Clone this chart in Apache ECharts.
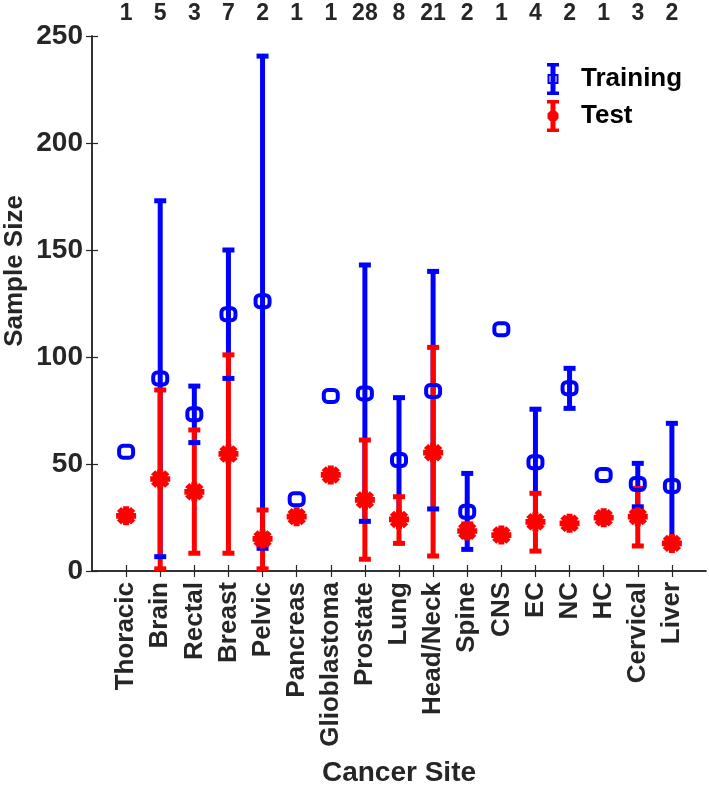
<!DOCTYPE html>
<html>
<head>
<meta charset="utf-8">
<script src="https://cdn.jsdelivr.net/npm/echarts@6/dist/echarts.min.js"></script>
<style>html,body{margin:0;padding:0;background:#fff;}#c{width:709px;height:786px;}</style>
</head>
<body>
<div id="c"></div>
<script>
var categories = ['Thoracic','Brain','Rectal','Breast','Pelvic','Pancreas','Glioblastoma','Prostate','Lung','Head/Neck','Spine','CNS','EC','NC','HC','Cervical','Liver'];
var counts = [1,5,3,7,2,1,1,28,8,21,2,1,4,2,1,3,2];
var trainMean = [55.7, 90, 73.2, 120, 126, 33.5, 81.8, 83, 51.9, 84.1, 27.7, 113, 50.8, 85.4, 44.9, 40.7, 39.7];
var trainLow  = [null, 6.7, 60, 90, 10.6, null, null, 23.2, 24, 29, 10.1, null, 23, 76, null, 30, 13];
var trainHigh = [null, 173, 86.4, 150, 240.6, null, null, 143, 81, 140, 45.6, null, 75.6, 94.7, null, 50.3, 69];
var testMean = [25.8, 43, 37, 54.7, 15, 25.4, 44.9, 33.2, 24.1, 55.3, 18.7, 16.8, 23, 22.3, 24.9, 25.4, 12.9];
var testLow  = [null, 1, 8.3, 8.3, 1, null, null, 5.5, 12.9, 7, 16, null, 9.3, 20.5, null, 11.7, null];
var testHigh = [null, 84.6, 65.9, 101, 28.5, null, null, 61.2, 34.7, 104.5, 22, null, 36.3, 24.5, null, 38.6, null];
var yTicks = [0, 50, 100, 150, 200, 250];

var BLUE = '#0000ff', RED = '#ff0000', AX = '#262626';
var FONT = '"Liberation Sans", Arial, sans-serif';

function rangeData(low, high) {
  var out = [];
  for (var i = 0; i < categories.length; i++) {
    if (low[i] != null && high[i] != null) out.push([i + 1, low[i], high[i]]);
  }
  return out;
}
function meanData(m) { return m.map(function (v, i) { return [i + 1, v]; }); }

function barSeries(name, low, high, color) {
  return {
    type: 'custom', name: name + 'Bar', silent: true, clip: false,
    data: rangeData(low, high),
    encode: { x: 0, y: [1, 2] },
    renderItem: function (params, api) {
      var p1 = api.coord([api.value(0), api.value(1)]);
      var p2 = api.coord([api.value(0), api.value(2)]);
      return { type: 'line', shape: { x1: p1[0], y1: p1[1], x2: p2[0], y2: p2[1] },
               style: { stroke: color, lineWidth: 5 } };
    }
  };
}
function capSeries(name, low, high, color) {
  return {
    type: 'custom', name: name + 'Cap', silent: true, clip: false,
    data: rangeData(low, high),
    encode: { x: 0, y: [1, 2] },
    renderItem: function (params, api) {
      var p1 = api.coord([api.value(0), api.value(1)]);
      var p2 = api.coord([api.value(0), api.value(2)]);
      var hw = 6;
      return { type: 'group', children: [
        { type: 'line', shape: { x1: p1[0] - hw, y1: p1[1], x2: p1[0] + hw, y2: p1[1] }, style: { stroke: color, lineWidth: 5 } },
        { type: 'line', shape: { x1: p2[0] - hw, y1: p2[1], x2: p2[0] + hw, y2: p2[1] }, style: { stroke: color, lineWidth: 5 } }
      ] };
    }
  };
}

var STAR = 'path://M-10,-3L10,-3L10,3L-10,3Z M-3,-10L3,-10L3,10L-3,10Z M-9.19,-4.95L-4.95,-9.19L9.19,4.95L4.95,9.19Z M4.95,-9.19L9.19,-4.95L-4.95,9.19L-9.19,4.95Z';
var ICON_T = 'path://M0,0H12V3.5H0Z M3.5,0H8.5V32H3.5Z M0,28.5H12V32H0Z M0.5,11H11.5V13H0.5Z M0.5,19H11.5V21H0.5Z M0.5,11H2.5V21H0.5Z M9.5,11H11.5V21H9.5Z';
var ICON_R = 'path://M0,0H12V3.5H0Z M3.5,0H8.5V32H3.5Z M0,28.5H12V32H0Z M3,11H9L11.5,13.5V18.5L9,21H3L0.5,18.5V13.5Z';

var chart = echarts.init(document.getElementById('c'), null, { renderer: 'canvas' });
var axisCommon = {
  axisLine: { show: true, lineStyle: { color: AX, width: 1.5 } },
  axisTick: { show: true, inside: true, length: 6, lineStyle: { color: AX, width: 1.2 } },
  splitLine: { show: false }
};
chart.setOption({
  animation: false,
  backgroundColor: '#ffffff',
  grid: { left: 92, right: 3, top: 36, bottom: 215, containLabel: false },
  xAxis: [
    Object.assign({}, axisCommon, {
      type: 'value', position: 'bottom', min: 0, max: 18, interval: 1,
      axisLabel: { rotate: 90, margin: 11, fontSize: 26, fontWeight: 'bold', color: AX, fontFamily: FONT,
        showMinLabel: false, showMaxLabel: false,
        formatter: function (v) { return (v >= 1 && v <= categories.length) ? categories[v - 1] : ''; } }
    }),
    Object.assign({}, axisCommon, {
      type: 'value', position: 'top', min: 0, max: 18, interval: 1,
      axisLabel: { margin: 11, fontSize: 23, fontWeight: 'bold', color: AX, fontFamily: FONT,
        showMinLabel: false, showMaxLabel: false,
        formatter: function (v) { return (v >= 1 && v <= counts.length) ? String(counts[v - 1]) : ''; } }
    })
  ],
  yAxis: [
    Object.assign({}, axisCommon, {
      type: 'value', position: 'left', min: yTicks[0], max: yTicks[yTicks.length - 1], interval: yTicks[1] - yTicks[0],
      axisLabel: { margin: 9, fontSize: 28, fontWeight: 'bold', color: AX, fontFamily: FONT }
    }),
    Object.assign({}, axisCommon, {
      type: 'value', position: 'right', min: yTicks[0], max: yTicks[yTicks.length - 1], interval: yTicks[1] - yTicks[0],
      axisLabel: { show: false }
    })
  ],
  legend: {
    orient: 'vertical', left: 542, top: 58, itemWidth: 12, itemHeight: 32, itemGap: 5,
    selectedMode: false,
    textStyle: { fontSize: 26, fontWeight: 'bold', color: '#000', fontFamily: FONT, padding: [0, 0, 0, 17] },
    data: [
      { name: 'Training', icon: ICON_T, itemStyle: { color: BLUE, borderWidth: 0, opacity: 1 } },
      { name: 'Test', icon: ICON_R, itemStyle: { color: RED, borderWidth: 0, opacity: 1 } }
    ]
  },
  graphic: [
    { type: 'text', x: 15, y: 271, rotation: Math.PI / 2,
      style: { text: 'Sample Size', fontSize: 26, fontWeight: 'bold', fill: AX, fontFamily: FONT, align: 'center', verticalAlign: 'middle' } },
    { type: 'text', x: 399, y: 773,
      style: { text: 'Cancer Site', fontSize: 28, fontWeight: 'bold', fill: AX, fontFamily: FONT, align: 'center', verticalAlign: 'middle' } }
  ],
  series: [
    barSeries('Training', trainLow, trainHigh, BLUE),
    barSeries('Test', testLow, testHigh, RED),
    capSeries('Training', trainLow, trainHigh, BLUE),
    capSeries('Test', testLow, testHigh, RED),
    {
      type: 'custom', name: 'Training', silent: true, clip: false,
      data: meanData(trainMean), encode: { x: 0, y: 1 },
      itemStyle: { color: BLUE },
      renderItem: function (params, api) {
        var p = api.coord([api.value(0), api.value(1)]);
        return { type: 'rect', shape: { x: p[0] - 7, y: p[1] - 6, width: 14, height: 12, r: 4 },
                 style: { fill: 'none', stroke: BLUE, lineWidth: 4 } };
      }
    },
    { type: 'scatter', name: 'Test', data: meanData(testMean), symbol: STAR, symbolSize: [20, 19],
      itemStyle: { color: RED, opacity: 1 }, silent: true }
  ]
});
</script>
</body>
</html>
